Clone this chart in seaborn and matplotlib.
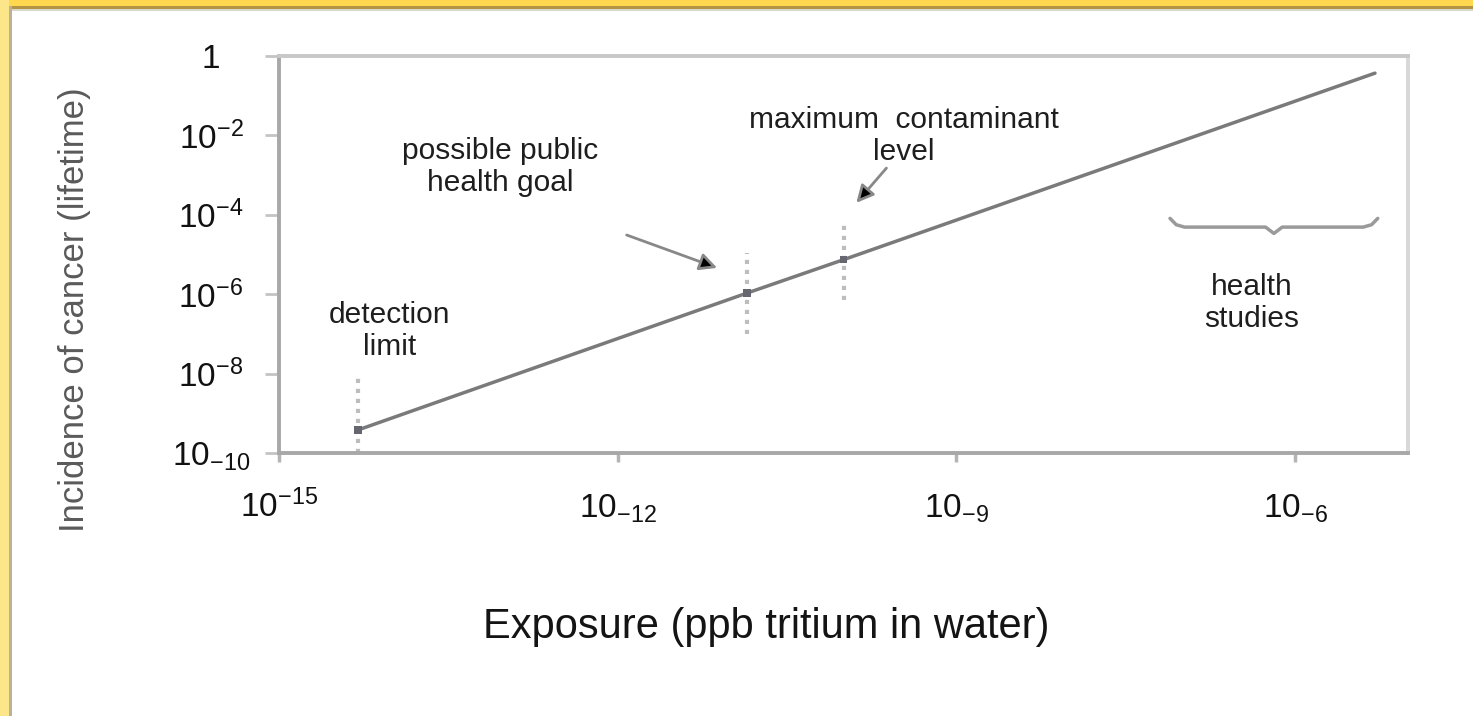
"""
Dose-response sketch: cancer incidence vs. tritium exposure (log-log).
"""

import numpy as np
import matplotlib
import matplotlib.pyplot as plt
import seaborn as sns
from matplotlib.patches import Rectangle
from matplotlib.ticker import NullLocator

matplotlib.use("Agg")

# ── Data ──────────────────────────────────────────────────────────────────────

exposure = [5.0e-15, 1.4e-11, 1.0e-10, 5.1e-6]       # ppb tritium in water
incidence = [3.8e-10, 1.07e-6, 7.4e-6, 3.7e-1]       # lifetime cancer incidence

key_exposure = [5.0e-15, 1.4e-11, 1.0e-10]           # detection, goal, MCL
key_incidence = [3.8e-10, 1.07e-6, 7.4e-6]
bar_low = [1e-10, 1e-7, 7e-7]
bar_high = [9e-9, 1.1e-5, 7.4e-5]

health_studies = [7.8e-8, 5.4e-6]                    # range of health studies
brace_level = 10 ** -4.31

x_ticks = [1e-15, 1e-12, 1e-9, 1e-6]
x_labels = [r"$\mathregular{10^{-15}}$", r"$\mathregular{10_{-12}}$",
            r"$\mathregular{10_{-9}}$", r"$\mathregular{10_{-6}}$"]
y_ticks = [1, 1e-2, 1e-4, 1e-6, 1e-8, 1e-10]
y_labels = ["1", r"$\mathregular{10^{-2}}$", r"$\mathregular{10^{-4}}$",
            r"$\mathregular{10^{-6}}$", r"$\mathregular{10^{-8}}$",
            r"$\mathregular{10_{-10}}$"]

# ── Style ─────────────────────────────────────────────────────────────────────

sns.set_theme(style="white")
plt.rcParams["font.family"] = ["Liberation Sans", "DejaVu Sans"]

W, H = 1473, 716
fig = plt.figure(figsize=(W / 100, H / 100), dpi=100, facecolor="white")
ax = fig.add_axes([279 / W, 1 - 453 / H, (1408 - 279) / W, (453 - 56) / H])

# frame around the slide
fig.add_artist(Rectangle((0, 1 - 6 / H), 1, 6 / H, transform=fig.transFigure,
                         color="#FFD84F", lw=0, zorder=10))
fig.add_artist(Rectangle((0, 1 - 9 / H), 1, 3 / H, transform=fig.transFigure,
                         color="#B39443", lw=0, zorder=10))
fig.add_artist(Rectangle((0, 1 - 11 / H), 1, 2 / H, transform=fig.transFigure,
                         color="#D8D8CC", lw=0, zorder=10))
fig.add_artist(Rectangle((0, 0), 9 / W, 1, transform=fig.transFigure,
                         color="#FDE58A", lw=0, zorder=11))
fig.add_artist(Rectangle((9 / W, 0), 3 / W, 1 - 6 / H, transform=fig.transFigure,
                         color="#B8B29A", lw=0, zorder=11))

# ── Plot ──────────────────────────────────────────────────────────────────────

sns.lineplot(x=exposure, y=incidence, ax=ax, color="#7a7a7a", lw=2.5, zorder=3)
ax.vlines(key_exposure, bar_low, bar_high, colors="#bdbdbd", lw=3,
          linestyles=(0, (1, 1.4)), zorder=2)
sns.scatterplot(x=key_exposure, y=key_incidence, ax=ax, marker="s", s=30,
                color="#666670", edgecolor="none", zorder=4)

ax.set(xscale="log", yscale="log", xlim=(1e-15, 1e-5), ylim=(1e-10, 1))
ax.xaxis.set_minor_locator(NullLocator())
ax.yaxis.set_minor_locator(NullLocator())
ax.set_xticks(x_ticks, x_labels)
ax.set_yticks(y_ticks, y_labels)
ax.tick_params(axis="y", direction="out", length=10, width=2, color="#c4c4c4",
               pad=39, labelsize=24, labelcolor="#111111", left=True)
ax.tick_params(axis="x", direction="out", length=6.5, width=2.5, color="#b4b4b4",
               pad=40, labelsize=24, labelcolor="#111111", bottom=True)
plt.setp(ax.get_yticklabels(), ha="center")
plt.setp(ax.get_xticklabels(), va="baseline")

for side, col in [("left", "#a8a8a8"), ("bottom", "#a8a8a8"),
                  ("top", "#c8c8c8"), ("right", "#d8d8d8")]:
    ax.spines[side].set_color(col)
    ax.spines[side].set_linewidth(2.8)

# annotations
txt = dict(ha="center", va="center", fontsize=21.5, color="#1e1e1e")
ax.text(9.1e-14, 1.6e-3, "possible public\nhealth goal", **txt)
ax.text(3.4e-10, 9.7e-3, "maximum  contaminant\nlevel", **txt)
ax.text(9.6e-15, 1.2e-7, "detection\nlimit", **txt)
ax.text(4.1e-7, 6.0e-7, "health\nstudies", **txt)

arrow = dict(arrowstyle="-|>", facecolor="black", edgecolor="#888888",
             lw=2, mutation_scale=26, shrinkA=0, shrinkB=0)
ax.annotate("", xy=(7.6e-12, 4.6e-6), xytext=(1.2e-12, 3.1e-5), arrowprops=arrow)
ax.annotate("", xy=(1.3e-10, 2.0e-4), xytext=(2.4e-10, 1.5e-3), arrowprops=arrow)

# curly brace over the health-studies range
lo, hi = np.log10(health_studies)
t = np.array([0, 0.03, 0.07, 0.46, 0.5, 0.54, 0.93, 0.97, 1])
dy = np.array([0.22, 0.06, 0, 0, -0.16, 0, 0, 0.06, 0.22])
ax.plot(10 ** (lo + t * (hi - lo)), brace_level * 10 ** dy,
        color="#9a9a9a", lw=2.5, solid_joinstyle="round")

fig.text(766 / W, 1 - 627 / H, "Exposure (ppb tritium in water)", ha="center",
         va="center", fontsize=30, color="#141414")
fig.text(75 / W, 1 - 310 / H, "Incidence of cancer (lifetime)", ha="center",
         va="center", rotation=90, fontsize=25, color="#5a5a5a")

fig.savefig("out.png", dpi=100, facecolor="white")
plt.close(fig)
